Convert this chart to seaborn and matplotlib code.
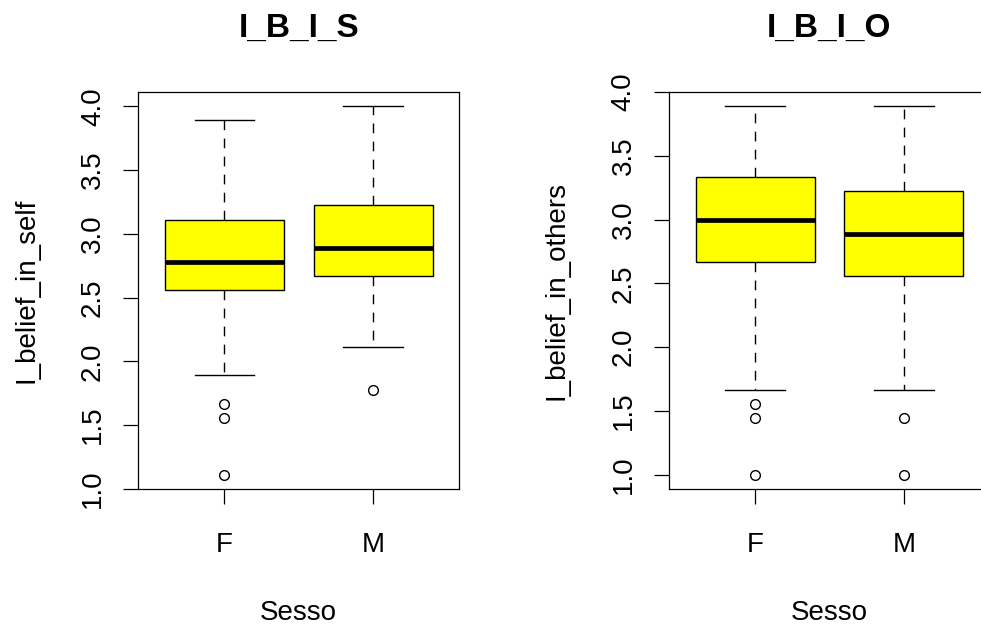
import matplotlib
matplotlib.use("Agg")
import matplotlib.pyplot as plt
import seaborn as sns
import pandas as pd

plt.rcParams['font.family'] = ['Liberation Sans', 'DejaVu Sans']

# ---- data (scale values are k/9) ----
sesso = ["F", "M"]

# Panel 1: I_belief_in_self
self_whisker_low = [17/9, 19/9]
self_q1 = [23/9, 24/9]
self_median = [25/9, 26/9]
self_q3 = [28/9, 29/9]
self_whisker_high = [35/9, 36/9]
self_outliers = [[15/9, 14/9, 10/9], [16/9]]

# Panel 2: I_belief_in_others
others_whisker_low = [15/9, 15/9]
others_q1 = [24/9, 23/9]
others_median = [27/9, 26/9]
others_q3 = [30/9, 29/9]
others_whisker_high = [35/9, 35/9]
others_outliers = [[14/9, 13/9, 9/9], [13/9, 9/9]]

titles = ["I_B_I_S", "I_B_I_O"]
ylabels = ["I_belief_in_self", "I_belief_in_others"]
yticks = [1.0, 1.5, 2.0, 2.5, 3.0, 3.5, 4.0]
ytick_labels = ["1.0", "1.5", "2.0", "2.5", "3.0", "3.5", "4.0"]


def sample_from_summary(lo, q1, med, q3, hi, outs):
    """Build a small sample whose box-plot summary equals the read values."""
    rows = []
    for g, a, b, c, d, e, o in zip(sesso, lo, q1, med, q3, hi, outs):
        vals = list(o) + [a] + [b] * 5 + [c] * 5 + [d] * 5 + [e]
        rows += [(g, v) for v in vals]
    return pd.DataFrame(rows, columns=["Sesso", "value"])


frames = [
    sample_from_summary(self_whisker_low, self_q1, self_median, self_q3,
                        self_whisker_high, self_outliers),
    sample_from_summary(others_whisker_low, others_q1, others_median, others_q3,
                        others_whisker_high, others_outliers),
]

fig = plt.figure(figsize=(9.81, 6.3), dpi=100)
positions = [[0.1407, 0.2233, 0.3275, 0.6314],
             [0.6817, 0.2233, 0.3275, 0.6314]]

FS = 20
for df, pos, title, ylab in zip(frames, positions, titles, ylabels):
    ax = fig.add_axes(pos)
    sns.boxplot(data=df, x="Sesso", y="value", order=sesso, ax=ax,
                color="#FFFF00", saturation=1, linecolor="black",
                linewidth=1.0, width=0.8, whis=1.51, fliersize=7,
                flierprops=dict(marker="o", markerfacecolor="none",
                                markeredgecolor="black", markeredgewidth=1.0),
                whiskerprops=dict(linestyle=(0, (7, 6))),
                medianprops=dict(linewidth=3.4, color="black"))
    vmin, vmax = df["value"].min(), df["value"].max()
    r = vmax - vmin
    ax.set_ylim(vmin - 0.04 * r, vmax + 0.04 * r)
    ax.set_xlim(-0.58, 1.58)
    ax.set_yticks(yticks)
    ax.set_yticklabels(ytick_labels, rotation=90, va="center")
    ax.tick_params(axis="both", length=10.8, width=0.9, color="black",
                   labelsize=FS)
    ax.tick_params(axis="x", pad=20.2)
    ax.tick_params(axis="y", pad=12.3)
    for s in ax.spines.values():
        s.set_linewidth(0.9)
        s.set_color("black")
    ax.set_title(title, fontsize=24, fontweight="bold", pad=39.5)
    ax.set_xlabel("Sesso", fontsize=FS)
    ax.set_ylabel(ylab, fontsize=FS)
    ax.xaxis.set_label_coords(0.5, -0.278)
    ax.yaxis.set_label_coords(-0.308, 0.5)

fig.savefig("out.png", dpi=100)
